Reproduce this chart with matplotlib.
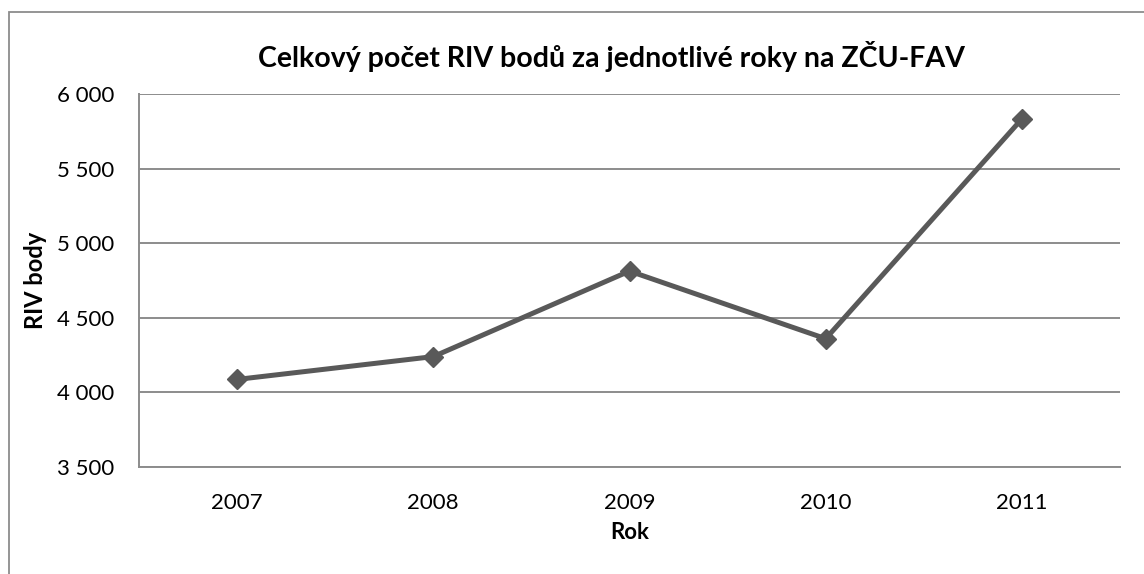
import matplotlib.pyplot as plt
from matplotlib.patches import Rectangle
from matplotlib.ticker import FuncFormatter

years = ["2007", "2008", "2009", "2010", "2011"]
riv_points = [4087, 4240, 4813, 4360, 5833]
y_ticks = [3500, 4000, 4500, 5000, 5500, 6000]

plt.rcParams['font.family'] = ['Lato', 'DejaVu Sans']


def space_thousands(v, pos):
    return f"{int(v):,}".replace(",", " ")


def plot_graph():
    W, H = 1144, 574
    fig = plt.figure(figsize=(W / 100, H / 100), dpi=100)
    fig.patches.append(Rectangle((8.5 / W, -0.1), 1.2, 1.1 - 12.5 / H, transform=fig.transFigure,
                                 fill=False, edgecolor="#8c8c8c", linewidth=1.3))

    ax = fig.add_axes([139 / W, 1 - 467 / H, (1120 - 139) / W, (467 - 94) / H])
    x = range(len(years))
    ax.plot(x, riv_points, color="#595959", linewidth=3.6, marker="D", markersize=10,
            solid_joinstyle="miter")

    ax.set_xlim(-0.5, len(years) - 0.5)
    ax.set_ylim(3500, 6000)
    ax.set_xticks(list(x))
    ax.set_xticklabels(years)
    ax.set_yticks(y_ticks)
    ax.yaxis.set_major_formatter(FuncFormatter(space_thousands))
    ax.grid(axis="y", color="#8c8c8c", linewidth=1.4)
    ax.set_axisbelow(True)
    for s in ["top", "right"]:
        ax.spines[s].set_visible(False)
    for s in ["left", "bottom"]:
        ax.spines[s].set_color("#8c8c8c")
        ax.spines[s].set_linewidth(1.4)
    ax.tick_params(length=0, labelsize=16)
    ax.tick_params(axis="y", pad=18)
    ax.tick_params(axis="x", pad=19)

    ax.set_xlabel("Rok", fontsize=16, fontweight="bold", labelpad=6)
    ax.set_ylabel("RIV body", fontsize=17, fontweight="bold", labelpad=7)
    fig.text(611 / W, 1 - 67 / H, "Celkový počet RIV bodů za jednotlivé roky na ZČU-FAV",
             ha="center", va="baseline", fontsize=20.5, fontweight="bold")

    fig.savefig("out.png", dpi=100)


if __name__ == '__main__':
    plot_graph()
